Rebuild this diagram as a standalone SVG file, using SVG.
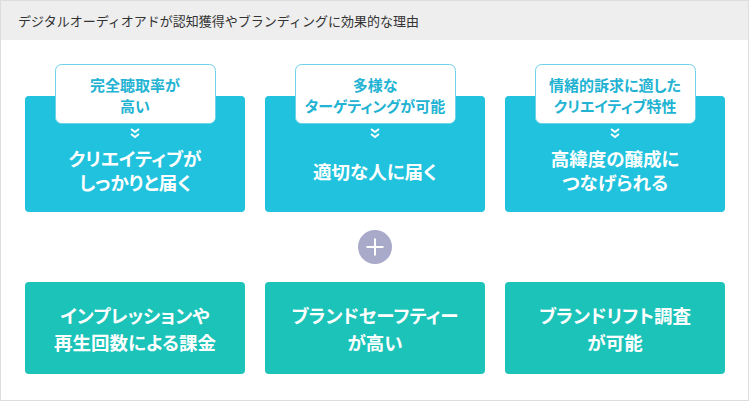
<svg xmlns="http://www.w3.org/2000/svg" width="750" height="402" viewBox="0 0 750 402">
<style>
.hd{font-family:"Noto Sans CJK JP","Noto Sans",sans-serif;font-size:13px;fill:#333}
.top{fill:#21c2dd}
.bot{fill:#1cc3b9}
.lab{fill:#fff;stroke:#6fd3e8;stroke-width:1}
.lt{font-family:"Noto Sans CJK JP","Noto Sans",sans-serif;font-size:15px;font-weight:bold;fill:#22b3d3;text-anchor:middle;font-feature-settings:"palt"}
.mt{font-family:"Noto Sans CJK JP","Noto Sans",sans-serif;font-size:18.5px;font-weight:bold;fill:#fff;text-anchor:middle;font-feature-settings:"palt"}
.chev{fill:none;stroke:#fff;stroke-width:2}
</style>
<rect x="0.5" y="0.5" width="748" height="400" fill="#fff" stroke="#dddddd"/>
<rect x="1" y="1" width="747" height="39" fill="#eeeeee"/>
<text class="hd" x="18" y="26">デジタルオーディオアドが認知獲得やブランディングに効果的な理由</text>

<g id="node-top1">
<rect class="top" x="25" y="96" width="220" height="116" rx="4"/>
<rect class="lab" x="55.5" y="64.5" width="160" height="59" rx="6"/>
<text class="lt" x="135" y="91">完全聴取率が</text>
<text class="lt" x="135" y="112">高い</text>
<text class="mt" x="135" y="166">クリエイティブが</text>
<text class="mt" x="135" y="190">しっかりと届く</text>
</g>
<g id="node-top2">
<rect class="top" x="265" y="96" width="220" height="116" rx="4"/>
<rect class="lab" x="295.5" y="64.5" width="160" height="59" rx="6"/>
<text class="lt" x="375" y="91">多様な</text>
<text class="lt" x="375" y="112">ターゲティングが可能</text>
<text class="mt" x="375" y="179">適切な人に届く</text>
</g>
<g id="node-top3">
<rect class="top" x="505" y="96" width="220" height="116" rx="4"/>
<rect class="lab" x="535.5" y="64.5" width="160" height="59" rx="6"/>
<text class="lt" x="615" y="91">情緒的訴求に適した</text>
<text class="lt" x="615" y="112">クリエイティブ特性</text>
<text class="mt" x="615" y="166">高緯度の醸成に</text>
<text class="mt" x="615" y="190">つなげられる</text>
</g>

<g id="connectors">
<path class="chev" d="M131 129 L135 132 L139 129 M131 134 L135 137 L139 134"/>
<path class="chev" d="M371 129 L375 132 L379 129 M371 134 L375 137 L379 134"/>
<path class="chev" d="M611 129 L615 132 L619 129 M611 134 L615 137 L619 134"/>
</g>

<g id="plus">
<circle cx="375" cy="247" r="17" fill="#a9a9c9"/>
<path d="M366.5 247 H383.5 M375 238.5 V255.5" stroke="#fff" stroke-width="2"/>
</g>

<g id="node-bot1">
<rect class="bot" x="25" y="282" width="220" height="92" rx="4"/>
<text class="mt" x="135" y="323">インプレッションや</text>
<text class="mt" x="135" y="350">再生回数による課金</text>
</g>
<g id="node-bot2">
<rect class="bot" x="265" y="282" width="220" height="92" rx="4"/>
<text class="mt" x="375" y="323">ブランドセーフティー</text>
<text class="mt" x="375" y="350">が高い</text>
</g>
<g id="node-bot3">
<rect class="bot" x="505" y="282" width="220" height="92" rx="4"/>
<text class="mt" x="615" y="323">ブランドリフト調査</text>
<text class="mt" x="615" y="350">が可能</text>
</g>
</svg>
